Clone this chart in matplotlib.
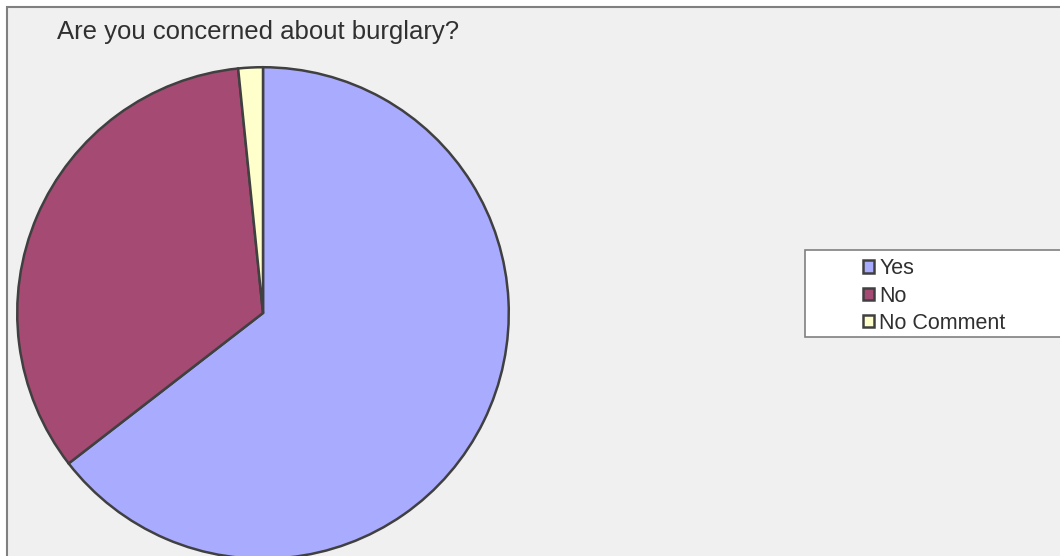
import matplotlib
matplotlib.use("Agg")
import matplotlib.pyplot as plt
from matplotlib.patches import Rectangle, Patch

plt.rcParams["font.family"] = ["Liberation Sans", "DejaVu Sans"]

title = "Are you concerned about burglary?"
labels = ["Yes", "No", "No Comment"]
counts = [40, 21, 1]
colors = ["#a9abff", "#a54a73", "#ffffcc"]
edge = "#404040"

W, H = 1060, 556
fig = plt.figure(figsize=(W / 100, H / 100), dpi=100)
fig.patch.set_facecolor("white")

# chart area frame (runs off right/bottom edge)
fig.patches.append(Rectangle((6.5 / W, -0.05), 1.1, (H - 6.5) / H + 0.05,
                             transform=fig.transFigure, facecolor="#f0f0f0",
                             edgecolor="#808080", lw=1.5, zorder=-3))

# pie: centre (263, 313) px, radius ~246 px
cx, cy, r = 263, 313, 247
ax = fig.add_axes([(cx - r) / W, (H - cy - r) / H, 2 * r / W, 2 * r / H])
ax.set_zorder(1)
ax.pie(counts, colors=colors, startangle=90, counterclock=False,
       wedgeprops=dict(edgecolor=edge, linewidth=1.8))
ax.set_xlim(-1.005, 1.005); ax.set_ylim(-1.005, 1.005)
ax.set_aspect("equal"); ax.axis("off")

fig.text(57 / W, 1 - 39 / H, title, fontsize=18.5, color="#303030")

# legend box
fig.patches.append(Rectangle((804.5 / W, 1 - 336.5 / H), 1.0, 87 / H,
                             transform=fig.transFigure, facecolor="white",
                             edgecolor="#808080", lw=1.2, zorder=-2))
handles = [Patch(facecolor=c, edgecolor=edge, lw=1.8) for c in colors]
leg = fig.legend(handles, labels, loc="upper left", bbox_to_anchor=(848 / W, 1 - 243 / H),
                 frameon=False, fontsize=15.5, handlelength=0.5, handleheight=0.5,
                 handletextpad=0.25, labelspacing=0.3, borderpad=0.2,
                 labelcolor="#303030")
leg.set_zorder(2)

fig.savefig("out.png", dpi=100)
